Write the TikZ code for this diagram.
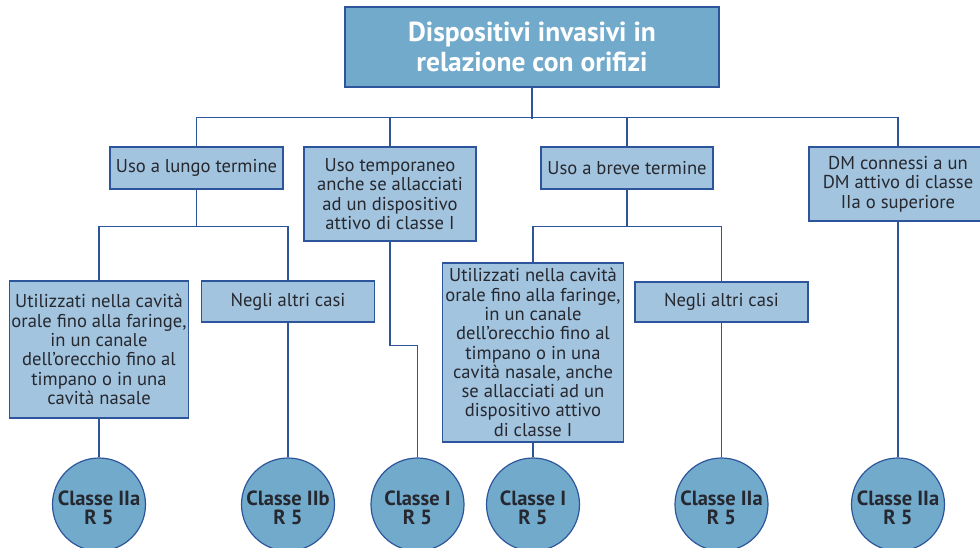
\documentclass[tikz,border=0pt]{standalone}
\usepackage{fontspec}
\setmainfont{PT Sans}
\usetikzlibrary{calc}
\definecolor{titlefill}{RGB}{114,170,204}
\definecolor{boxfill}{RGB}{163,196,222}
\definecolor{edgeblue}{RGB}{45,85,155}
\definecolor{txt}{RGB}{38,40,48}
\begin{document}
\begin{tikzpicture}[x=1pt,y=-1pt,
  box/.style={draw=edgeblue, fill=boxfill, line width=1.2pt, text=txt, align=center,
    inner sep=0pt, font=\fontsize{18.6}{19.3}\selectfont},
  titlebox/.style={draw=edgeblue, fill=titlefill, line width=1.2pt, text=white, align=center,
    inner sep=0pt, font=\bfseries\fontsize{27.5}{30}\selectfont},
  circ/.style={circle, draw=edgeblue, fill=titlefill, line width=1.2pt, minimum size=93pt,
    inner sep=0pt},
  circtext/.style={inner sep=0pt, text=txt, align=center, font=\bfseries\fontsize{20.5}{19}\selectfont},
  link/.style={draw=edgeblue, line width=1.2pt}]
\useasboundingbox (0,0) rectangle (980,547);

\node[titlebox, minimum width=374pt, minimum height=80pt] (title) at (532,47)
  {Dispositivi invasivi in\\relazione con orifizi};

\node[box, minimum width=173pt, minimum height=42pt] (lungo) at (196.5,168) {Uso a lungo termine};
\node[box, minimum width=172pt, minimum height=94pt] (temp) at (390,194)
  {Uso temporaneo\\anche se allacciati\\ad un dispositivo\\attivo di classe I};
\node[box, minimum width=172pt, minimum height=42pt] (breve) at (627,168) {Uso a breve termine};
\node[box, minimum width=178pt, minimum height=74pt] (dm) at (898,184)
  {DM connessi a un\\DM attivo di classe\\IIa o superiore};

\node[box, minimum width=179pt, minimum height=137pt] (util1) at (99,349.5)
  {Utilizzati nella cavità\\orale fino alla faringe,\\in un canale\\dell’orecchio fino al\\timpano o in una\\cavità nasale};
\node[box, minimum width=173pt, minimum height=41pt] (negli1) at (288,301.5) {Negli altri casi};
\node[box, minimum width=181pt, minimum height=179pt] (util2) at (533,352.5)
  {Utilizzati nella cavità\\orale fino alla faringe,\\in un canale\\dell’orecchio fino al\\timpano o in una\\cavità nasale, anche\\se allacciati ad un\\dispositivo attivo\\di classe I};
\node[box, minimum width=173pt, minimum height=40pt] (negli2) at (721.5,302) {Negli altri casi};

\node[circ] (c1) at (99,504.5) {};
\node[circ] (c2) at (288,504.5) {};
\node[circ] (c3) at (417.5,504.5) {};
\node[circ] (c4) at (533,504.5) {};
\node[circ] (c5) at (721.5,504.5) {};
\node[circ] (c6) at (898,504.5) {};
\node[circtext] (t1) at ($(c1)+(0,3)$) {Classe IIa\\R 5};
\node[circtext] (t2) at ($(c2)+(0,3)$) {Classe IIb\\R 5};
\node[circtext] (t3) at ($(c3)+(0,3)$) {Classe I\\R 5};
\node[circtext] (t4) at ($(c4)+(0,3)$) {Classe I\\R 5};
\node[circtext] (t5) at ($(c5)+(0,3)$) {Classe IIa\\R 5};
\node[circtext] (t6) at ($(c6)+(0,3)$) {Classe IIa\\R 5};

% top tree
\draw[link] (title.south) -- ++(0,31);
\draw[link] (lungo.north) -- ++(0,-29) -| (dm.north);
\draw[link] (temp.north) -- ++(0,-29);
\draw[link] (breve.north) -- ++(0,-29);

% long term
\draw[link] (lungo.south) -- ++(0,37) coordinate (j1);
\draw[link] (util1.north) |- (j1) -| (negli1.north);
% short term
\draw[link] (breve.south) -- ++(0,37) coordinate (j2);
\draw[link] (util2.north) |- (j2) -| (negli2.north);
% temporary
\draw[link] (temp.south) -- ++(0,104) -| (c3.north);

% to circles
\draw[link] (util1.south) -- (c1.north);
\draw[link] (negli1.south) -- (c2.north);
\draw[link] (util2.south) -- (c4.north);
\draw[link] (negli2.south) -- (c5.north);
\draw[link] (dm.south) -- (c6.north);
\end{tikzpicture}
\end{document}
